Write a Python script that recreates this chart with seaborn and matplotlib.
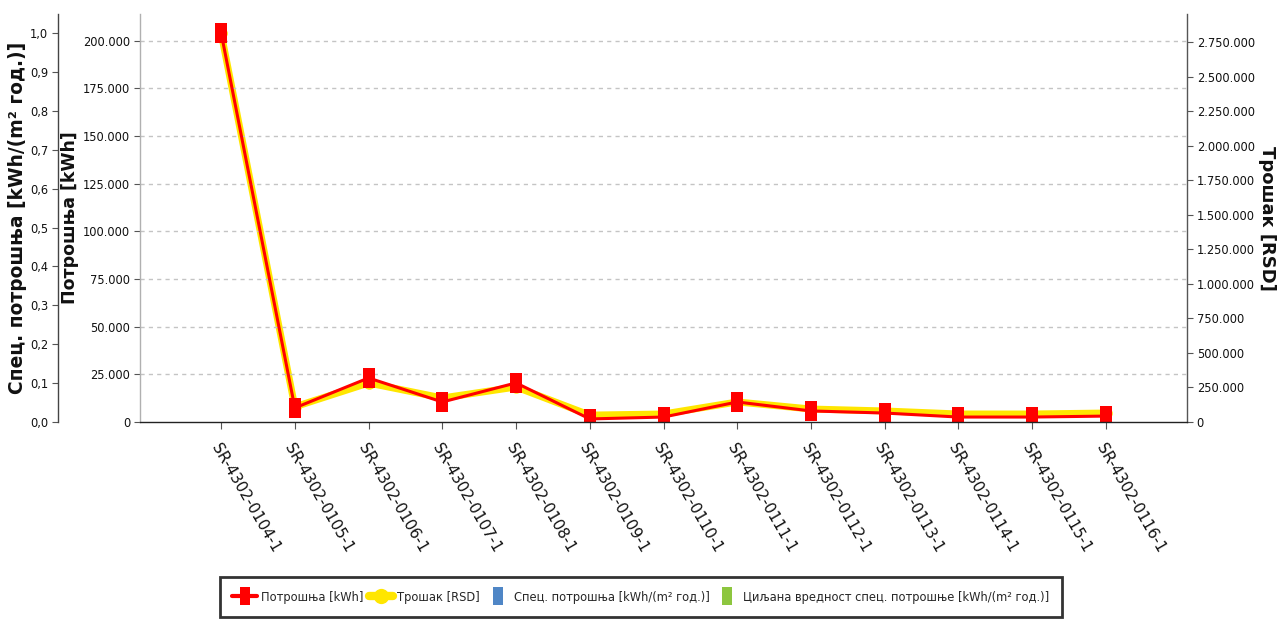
import matplotlib
matplotlib.use("Agg")
import matplotlib.pyplot as plt
from matplotlib import font_manager
from matplotlib.font_manager import FontProperties
from matplotlib.lines import Line2D
from matplotlib.ticker import FuncFormatter, MultipleLocator
import seaborn as sns
import pandas as pd

codes = ["SR-4302-0104-1", "SR-4302-0105-1", "SR-4302-0106-1", "SR-4302-0107-1",
         "SR-4302-0108-1", "SR-4302-0109-1", "SR-4302-0110-1", "SR-4302-0111-1",
         "SR-4302-0112-1", "SR-4302-0113-1", "SR-4302-0114-1", "SR-4302-0115-1",
         "SR-4302-0116-1"]
potrosnja_kwh = [204200, 7400, 23100, 10500, 20500, 1600, 2600, 10500, 5800, 4700, 2600, 2600, 3100]
trosak_rsd = [2815000, 110000, 282000, 174000, 253000, 50000, 58000, 145000, 94000, 80000, 58000, 58000, 65000]

df = pd.DataFrame({"code": codes, "kwh": potrosnja_kwh, "rsd": trosak_rsd})

sns.set_theme(style="white")
plt.rcParams["font.family"] = ["DejaVu Sans"]

# narrow face for value ticks and legend, if one is installed
_fonts = font_manager.fontManager.ttflist
if any(f.name == "DejaVu Sans" and "ondensed" in f.fname and "Bold" not in f.fname for f in _fonts):
    narrow = FontProperties(family="DejaVu Sans", stretch="condensed", size=9.2)
elif any(f.name == "Liberation Sans Narrow" for f in _fonts):
    narrow = FontProperties(family="Liberation Sans Narrow", size=10.3)
else:
    narrow = FontProperties(family="DejaVu Sans", size=8.5)

RED = "#ff0000"
YELLOW = "#ffe600"
BLUE = "#4f86c6"
GREEN = "#8dc63f"

fig = plt.figure(figsize=(12.87, 6.19), dpi=100, facecolor="white")
ax = fig.add_axes([140 / 1287, 1 - 422 / 619, (1187 - 140) / 1287, (422 - 14) / 619])
ax2 = ax.twinx()   # cost axis on the right
ax3 = ax.twinx()   # specific consumption axis, outer left

for a in (ax, ax2, ax3):
    a.patch.set_visible(False)
ax.set_zorder(3)
ax2.set_zorder(2)
ax3.set_zorder(1)

rect = [(-0.6, -1), (0.6, -1), (0.6, 1), (-0.6, 1), (-0.6, -1)]

# cost line (yellow) behind consumption line (red)
sns.lineplot(data=df, x="code", y="rsd", ax=ax2, sort=False, color=YELLOW,
             linewidth=5, marker="o", markersize=9, markeredgewidth=0, legend=False)
sns.lineplot(data=df, x="code", y="kwh", ax=ax, sort=False, color=RED,
             linewidth=2.2, marker=rect, markersize=14, markeredgewidth=0, legend=False)

ax.set_xlim(-1.1, len(codes) - 1 + 1.1)
ax.set_ylim(0, 214000)
ax2.set_ylim(0, 2952600)
ax3.set_ylim(0, 1.049)

thousands = FuncFormatter(lambda v, p: f"{int(round(v)):,}".replace(",", "."))
ax.yaxis.set_major_locator(MultipleLocator(25000))
ax.yaxis.set_major_formatter(thousands)
ax2.yaxis.set_major_locator(MultipleLocator(250000))
ax2.yaxis.set_major_formatter(thousands)
ax3.yaxis.set_major_locator(MultipleLocator(0.1))
ax3.yaxis.set_major_formatter(FuncFormatter(lambda v, p: f"{v:.1f}".replace(".", ",")))

# grid on the consumption scale
for a in (ax, ax2, ax3):
    a.grid(False)
for t in range(25000, 214000, 25000):
    ax.axhline(t, color="#c4c4c4", linewidth=1.0, linestyle=(0, (3, 3)), zorder=0)

# spines
for a in (ax, ax2, ax3):
    for s in a.spines.values():
        s.set_visible(False)
ax.spines["left"].set_visible(True)
ax.spines["left"].set_color("#b0b0b0")
ax.spines["left"].set_linewidth(1.0)
ax.spines["bottom"].set_visible(True)
ax.spines["bottom"].set_color("#222222")
ax.spines["bottom"].set_linewidth(1.0)
ax.spines["bottom"].set_linestyle((0, (2, 1)))
ax2.spines["right"].set_visible(True)
ax2.spines["right"].set_color("#555555")
ax2.spines["right"].set_linewidth(1.0)
ax3.spines["left"].set_visible(True)
ax3.spines["left"].set_position(("outward", 82 * 72 / 100))
ax3.spines["left"].set_color("#444444")
ax3.spines["left"].set_linewidth(1.0)
ax3.yaxis.set_ticks_position("left")
ax3.yaxis.set_label_position("left")

for a in (ax, ax2, ax3):
    a.tick_params(axis="y", which="major", direction="out", length=4, width=0.8,
                  color="#555555", labelcolor="#111111", pad=3)
ax.tick_params(axis="y", left=True, right=False)
ax2.tick_params(axis="y", right=True, left=False)
ax3.tick_params(axis="y", left=True, right=False)
ax.tick_params(axis="x", bottom=True, direction="out", length=5, width=0.8,
               color="#555555", labelsize=11, labelcolor="#111111", pad=9)

ax.set_xticks(range(len(codes)))
ax.set_xticklabels(codes, rotation=-60, ha="left", va="top", rotation_mode="anchor")
ax.set_xlabel("")

fig.canvas.draw()
for a in (ax, ax2, ax3):
    for lab in a.get_yticklabels():
        lab.set_fontproperties(narrow)

ax.set_ylabel("Потрошња [kWh]", fontsize=12.5, fontweight="bold", labelpad=3,
              color="#111111")
ax2.set_ylabel("Трошак [RSD]", fontsize=13, fontweight="bold",
               rotation=-90, labelpad=15, color="#111111")
ax3.set_ylabel("Спец. потрошња [kWh/(m² год.)]", fontsize=13.4, fontweight="bold",
               labelpad=2, color="#111111")

handles = [
    Line2D([], [], color=RED, linewidth=3, marker=rect, markersize=13, markeredgewidth=0),
    Line2D([], [], color=YELLOW, linewidth=6, marker="o", markersize=11, markeredgewidth=0),
    Line2D([], [], linestyle="none", marker=rect, markersize=13, markeredgewidth=0,
           color=BLUE),
    Line2D([], [], linestyle="none", marker=rect, markersize=13, markeredgewidth=0,
           color=GREEN),
]
labels = ["Потрошња [kWh]", "Трошак [RSD]", "Спец. потрошња [kWh/(m² год.)]",
          "Циљана вредност спец. потрошње [kWh/(m² год.)]"]
leg = fig.legend(handles, labels, loc="center", bbox_to_anchor=(641 / 1287, 1 - 597 / 619),
                 ncol=4, prop=narrow, frameon=True, fancybox=False, framealpha=1,
                 edgecolor="#333333", handlelength=1.9, handletextpad=0.3,
                 columnspacing=0.45, borderpad=1.0, borderaxespad=0, handleheight=1.2)
leg.get_frame().set_linewidth(2)

fig.savefig("out.png", dpi=100, facecolor="white")
